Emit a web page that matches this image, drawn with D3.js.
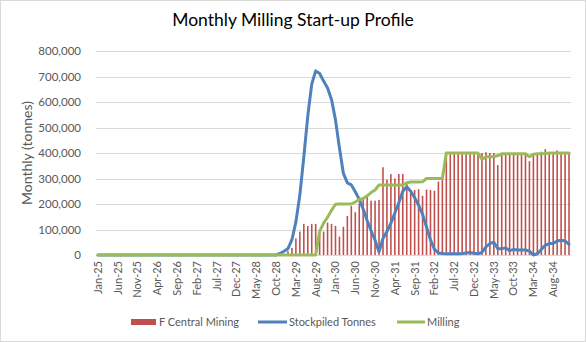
<!DOCTYPE html>
<html><head><meta charset="utf-8">
<script src="https://cdn.jsdelivr.net/npm/d3@7/dist/d3.min.js"></script>
<style>
html,body{margin:0;padding:0;background:#fff;}
svg{display:block;font-family:Lato,"Open Sans",sans-serif;}
</style></head><body>
<svg id="chart" width="586" height="342"></svg>
<script>
// Categories: monthly from Jan-25 to Dec-34 (120 months)
const fmt = d3.timeFormat("%b-%y");
const categories = d3.timeMonths(new Date(2025,0,1), new Date(2035,0,1)).map(fmt);

const tickLabels = ["Jan-25","Jun-25","Nov-25","Apr-26","Sep-26","Feb-27","Jul-27","Dec-27","May-28","Oct-28","Mar-29","Aug-29","Jan-30","Jun-30","Nov-30","Apr-31","Sep-31","Feb-32","Jul-32","Dec-32","May-33","Oct-33","Mar-34","Aug-34"];
const yTicks = [0,100000,200000,300000,400000,500000,600000,700000,800000];

const zeros = n => Array(n).fill(0);

// F Central Mining (tonnes)
const mining = zeros(47).concat([
  4000,15000,28000,65000,92000,122000,114000,122000,122000,92000,
  92000,127000,122000,114000,72000,111000,153000,192000,168000,203000,
  220000,229000,213000,213000,216000,344000,295000,317000,300000,318000,
  318000,281000,255000,255000,258000,232000,257000,255000,252000,288000,
  294000,
  400000,400000,400000,400000,400000,400000,400000,400000,400000,400000,
  403000,400000,400000,353000,400000,400000,400000,400000,400000,400000,
  400000,368000,400000,400000,405000,415000,402000,402000,410000,400000,
  400000,400000]);

// Stockpiled Tonnes
const stockpiled = zeros(45).concat([
  0,6000,15000,25000,60000,130000,235000,385000,545000,670000,
  722000,712000,682000,655000,610000,530000,420000,320000,283000,275000,
  248000,218000,180000,135000,95000,58000,12000,65000,92000,125000,
  165000,205000,250000,268000,250000,225000,195000,160000,110000,60000,
  22000,8000,6000,5000,5000,5000,5000,6000,8000,10000,
  7000,5000,10000,32000,45000,50000,25000,25000,28000,17000,
  22000,20000,20000,20000,15000,0,5000,22000,38000,45000,
  45000,55000,58000,55000,42000]);

// Milling
const milling = zeros(56).concat([
  93000,125000,148000,175000,199000,200000,200000,200000,200000,208000,
  218000,222000,232000,245000,255000,275000,275000,275000,275000,275000,
  275000,275000,283000,286000,286000,286000,287000,300000,300000,300000,
  300000,300000,400000,400000,400000,400000,400000,400000,400000,400000,
  400000,375000,385000,385000,385000,390000,397000,397000,397000,397000,
  397000,397000,397000,385000,395000,397000,397000,398000,400000,400000,
  400000,400000,400000,400000]);

const svg = d3.select("#chart");
const W = 586, H = 342;
const plot = {left: 96, right: 571, top: 51, bottom: 255};

svg.append("rect").attr("x",0.5).attr("y",0.5).attr("width",W-1).attr("height",H-1)
  .attr("fill","#fff").attr("stroke","#d9d9d9");

const x = d3.scaleBand().domain(categories).range([plot.left, plot.right])
  .paddingInner(0.6).paddingOuter(0.3);
const cx = c => x(c) + x.bandwidth()/2;
const y = d3.scaleLinear().domain([0,800000]).range([plot.bottom, plot.top]);

// gridlines
svg.append("g").selectAll("line").data(yTicks).join("line")
  .attr("x1",plot.left).attr("x2",plot.right)
  .attr("y1",d=>Math.round(y(d))+0.5).attr("y2",d=>Math.round(y(d))+0.5)
  .attr("stroke","#d9d9d9").attr("stroke-width",1);

// y axis labels
const yAxis = d3.axisLeft(y).tickValues(yTicks).tickFormat(d3.format(",")).tickSize(0).tickPadding(15);
const gy = svg.append("g").attr("transform",`translate(${plot.left},0)`).call(yAxis);
gy.select(".domain").remove();
gy.selectAll("text").attr("fill","#595959").style("font-size","11.5px").style("font-family","Lato,'Open Sans',sans-serif");

// x axis labels
const xAxis = d3.axisBottom(x).tickValues(tickLabels).tickSize(0).tickPadding(0);
const gx = svg.append("g").attr("transform",`translate(0,${plot.bottom})`).call(xAxis);
gx.select(".domain").attr("stroke","#d9d9d9");
gx.selectAll("text")
  .attr("fill","#595959").style("font-size","11px").style("font-family","Lato,'Open Sans',sans-serif")
  .attr("text-anchor","end").attr("dy","0.35em").attr("y",0)
  .attr("transform","translate(0,6) rotate(-90)");

// bars
svg.append("g").selectAll("rect").data(categories).join("rect")
  .attr("x",c=>x(c)).attr("width",x.bandwidth())
  .attr("y",(c,i)=>y(mining[i])).attr("height",(c,i)=>y(0)-y(mining[i]))
  .attr("fill","#C0504D");

const line = arr => d3.line().x((d,i)=>cx(categories[i])).y(d=>y(d))(arr);

svg.append("path").attr("d",line(stockpiled)).attr("fill","none")
  .attr("stroke","#4F81BD").attr("stroke-width",3).attr("stroke-linejoin","round").attr("stroke-linecap","round");
svg.append("path").attr("d",line(milling)).attr("fill","none")
  .attr("stroke","#9BBB59").attr("stroke-width",3).attr("stroke-linejoin","round").attr("stroke-linecap","round");

// title
svg.append("text").attr("x",293).attr("y",26).attr("text-anchor","middle")
  .attr("fill","#000").style("font-size","17.5px").text("Monthly Milling Start-up Profile");

// y title
svg.append("text").attr("transform","translate(32,153) rotate(-90)").attr("text-anchor","middle")
  .attr("fill","#595959").style("font-size","14px").text("Monthly (tonnes)");

// legend
const leg = svg.append("g").style("font-size","11px").attr("fill","#595959");
const ly = 322;
leg.append("rect").attr("x",131).attr("y",ly-3).attr("width",25).attr("height",6).attr("fill","#C0504D");
leg.append("text").attr("x",159).attr("y",ly).attr("dy","0.35em").text("F Central Mining");
leg.append("line").attr("x1",258).attr("x2",287).attr("y1",ly).attr("y2",ly).attr("stroke","#4F81BD").attr("stroke-width",3);
leg.append("text").attr("x",289).attr("y",ly).attr("dy","0.35em").text("Stockpiled Tonnes");
leg.append("line").attr("x1",397).attr("x2",425).attr("y1",ly).attr("y2",ly).attr("stroke","#9BBB59").attr("stroke-width",3);
leg.append("text").attr("x",427).attr("y",ly).attr("dy","0.35em").text("Milling");
</script>
</body></html>
